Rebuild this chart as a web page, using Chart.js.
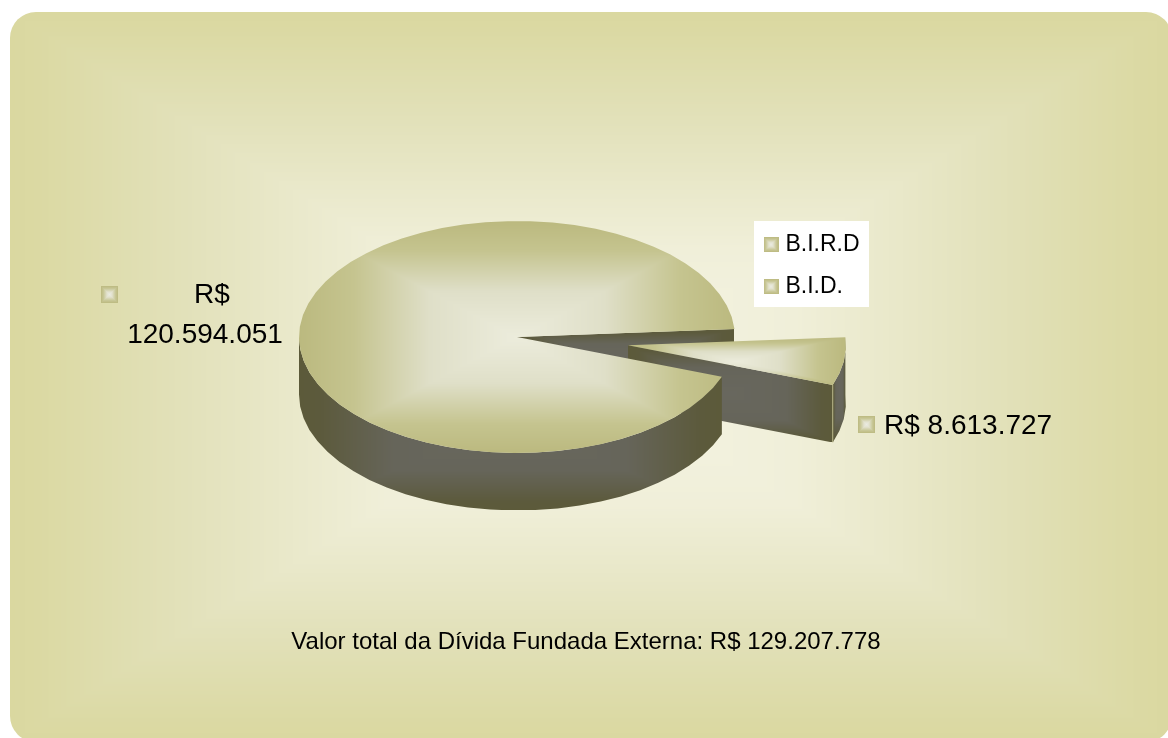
<!DOCTYPE html>
<html><head><meta charset="utf-8">
<style>html,body{margin:0;padding:0;background:#fff;overflow:hidden}canvas{display:block}</style>
<script src="https://cdn.jsdelivr.net/npm/chart.js@4"></script>
</head><body>
<div style="width:1168px;height:738px"><canvas id="c" width="1168" height="738"></canvas></div>
<script>
const categories = ['B.I.R.D', 'B.I.D.'];
const debtValues = [120594051, 8613727];
const totalLabel = 'Valor total da Dívida Fundada Externa: R$ 129.207.778';
const explodeOffsets = [0, 112];   // radial explosion of each slice, px in pie plane
const FONT = '"Liberation Sans", Arial, sans-serif';
const SQUASH = 0.532, DEPTH = 57.5, FACET = 6 * Math.PI / 180;
const TOP_STOPS  = [[0,[236,236,220]],[.4,[223,223,200]],[.75,[197,196,143]],[1,[187,185,127]]];
const WALL_STOPS = [[0,[104,103,94]],[.55,[102,101,90]],[.9,[92,90,60]],[1,[92,90,58]]];
const BG_STOPS   = [[0,[245,244,228]],[.35,[240,239,217]],[.7,[226,225,186]],[.95,[219,217,163]],[1,[218,216,160]]];
const MARK_STOPS = [[0,[235,235,225]],[.3,[226,226,206]],[.7,[200,199,150]],[1,[187,185,127]]];
const fmt = v => String(v).replace(/\B(?=(\d{3})+$)/g, '.');

function lerpStops(stops, t) {
  t = Math.min(1, Math.max(0, t));
  for (let i = 1; i < stops.length; i++) if (t <= stops[i][0]) {
    const a = stops[i-1], b = stops[i], k = (t - a[0]) / (b[0] - a[0] || 1);
    return a[1].map((c, j) => c + (b[1][j] - c) * k);
  }
  return stops[stops.length-1][1];
}
function rectGradient(w, h, stops) {
  w = Math.max(1, Math.ceil(w)); h = Math.max(1, Math.ceil(h));
  const cv = document.createElement('canvas'); cv.width = w; cv.height = h;
  const g = cv.getContext('2d'), im = g.createImageData(w, h);
  for (let y = 0; y < h; y++) for (let x = 0; x < w; x++) {
    const t = Math.max(Math.abs(x + .5 - w/2) / (w/2), Math.abs(y + .5 - h/2) / (h/2));
    const c = lerpStops(stops, t), i = (y*w + x) * 4;
    im.data[i] = c[0]; im.data[i+1] = c[1]; im.data[i+2] = c[2]; im.data[i+3] = 255;
  }
  g.putImageData(im, 0, 0);
  return cv;
}
function shade(ctx, pathFn, box, stops) {
  ctx.save(); ctx.beginPath(); pathFn(ctx); ctx.closePath(); ctx.clip();
  ctx.drawImage(rectGradient(box.x1 - box.x0, box.y1 - box.y0, stops), box.x0, box.y0, box.x1 - box.x0, box.y1 - box.y0);
  ctx.restore();
}
const markerImg = rectGradient(15, 15, MARK_STOPS);
const markerImg2 = rectGradient(17, 17, MARK_STOPS);

function geom(arc, i) {
  const p = arc.getProps(['x','y','startAngle','endAngle','outerRadius'], true);
  const mid = (p.startAngle + p.endAngle) / 2, off = explodeOffsets[i];
  const cx = p.x + Math.cos(mid) * off, cy = p.y + Math.sin(mid) * off * SQUASH;
  const r = p.outerRadius, ry = r * SQUASH;
  const pt = (a, dz = 0) => [cx + Math.cos(a) * r, cy + Math.sin(a) * ry + dz];
  return {cx, cy, r, ry, a0: p.startAngle, a1: p.endAngle, pt};
}
function arcPts(g, a0, a1, dz) {
  const pts = [], n = Math.max(1, Math.ceil(Math.abs(a1 - a0) / FACET));
  for (let i = 0; i <= n; i++) pts.push(g.pt(a0 + (a1 - a0) * i / n, dz));
  return pts;
}
function trace(ctx, pts, first) { pts.forEach((p, i) => (first && i === 0) ? ctx.moveTo(p[0], p[1]) : ctx.lineTo(p[0], p[1])); }
function topFace(ctx, g) {
  const sweep = g.a1 - g.a0;
  let xs = arcPts(g, g.a0, g.a1, 0).concat([[g.cx, g.cy]]);
  const box = sweep > Math.PI
    ? {x0: g.cx - g.r, x1: g.cx + g.r, y0: g.cy - g.ry, y1: g.cy + g.ry}
    : {x0: Math.min(...xs.map(p=>p[0])), x1: Math.max(...xs.map(p=>p[0])), y0: Math.min(...xs.map(p=>p[1])), y1: Math.max(...xs.map(p=>p[1]))};
  shade(ctx, c => trace(c, xs, true), box, TOP_STOPS);
}
function band(ctx, g, a0, a1) {
  const top = arcPts(g, a0, a1, 0), bot = arcPts(g, a1, a0, DEPTH);
  const all = top.concat(bot);
  shade(ctx, c => { trace(c, top, true); trace(c, bot, false); },
    {x0: Math.min(...all.map(p=>p[0])), x1: Math.max(...all.map(p=>p[0])), y0: Math.min(...all.map(p=>p[1])), y1: Math.max(...all.map(p=>p[1]))}, WALL_STOPS);
}
function cutWall(ctx, g, a) {
  const e = g.pt(a), pts = [[g.cx, g.cy], e, [e[0], e[1] + DEPTH], [g.cx, g.cy + DEPTH]];
  shade(ctx, c => trace(c, pts, true),
    {x0: Math.min(g.cx, e[0]), x1: Math.max(g.cx, e[0]), y0: Math.min(g.cy, e[1]), y1: Math.max(g.cy, e[1]) + DEPTH}, WALL_STOPS);
}
const pie3d = {
  id: 'pie3d',
  afterLayout(chart) {
    const L = chart.legend, T = chart.titleBlock;
    L.left = 749; L.right = 869; L.top = 214; L.bottom = 600; L.width = 120; L.height = 386;
    T.left = 0; T.right = 1172; T.width = 1172; T.top = 628; T.bottom = 657; T.height = 29;
  },
  beforeDraw(chart) {
    const ctx = chart.ctx;
    ctx.save();
    ctx.beginPath(); ctx.roundRect(10, 12, 1162, 730, 26); ctx.clip();
    ctx.drawImage(rectGradient(1162, 730, BG_STOPS), 10, 12);
    ctx.restore();
    ctx.fillStyle = '#fff'; ctx.fillRect(754, 221, 115, 86);
  },
  beforeDatasetDraw(chart, args) {
    const ctx = chart.ctx, arcs = chart.getDatasetMeta(args.index).data;
    const main = geom(arcs[0], 0), slice = geom(arcs[1], 1);
    // main pie: wall of the notch's far edge
    cutWall(ctx, main, main.a1);
    // exploded slice: side faces, light corner seam, then top
    const corner = slice.pt(slice.a1 - 2 * Math.PI);
    cutWall(ctx, slice, slice.a1 - 2 * Math.PI);
    band(ctx, slice, slice.a0, slice.a1);
    ctx.strokeStyle = 'rgba(190,188,140,0.85)'; ctx.lineWidth = 1;
    ctx.beginPath(); ctx.moveTo(corner[0], corner[1]); ctx.lineTo(corner[0], corner[1] + DEPTH); ctx.stroke();
    topFace(ctx, slice);
    // main pie: outer wall (front half only) and top
    band(ctx, main, main.a0, Math.PI);
    topFace(ctx, main);
    return false;
  },
  afterDatasetsDraw(chart) {
    const ctx = chart.ctx;
    ctx.save();
    ctx.fillStyle = '#000'; ctx.textBaseline = 'alphabetic'; ctx.font = '28px ' + FONT;
    const [m1, m2] = [fmt(debtValues[0]), fmt(debtValues[1])];
    ctx.drawImage(markerImg2, 101, 286);
    ctx.textAlign = 'center';
    ctx.fillText('R$', 212, 303);
    ctx.fillText(m1, 205, 343);
    ctx.drawImage(markerImg2, 858, 416);
    ctx.textAlign = 'left';
    ctx.fillText('R$ ' + m2, 884, 434);
    ctx.restore();
  }
};
new Chart(document.getElementById('c'), {
  type: 'pie',
  data: { labels: categories, datasets: [{ data: debtValues, backgroundColor: ['#bbb97f', '#bbb97f'], borderWidth: 0 }] },
  plugins: [pie3d],
  options: {
    responsive: false, animation: false, rotation: 110, radius: 218,
    layout: { padding: { left: 0, right: 134, top: 0, bottom: 35.2 } },
    plugins: {
      tooltip: { enabled: false },
      legend: {
        position: 'chartArea', align: 'start',
        labels: {
          usePointStyle: true, boxWidth: 6, padding: 19, color: '#000',
          font: { family: FONT, size: 23 },
          generateLabels: c => c.data.labels.map((t, i) => ({ text: t, pointStyle: markerImg, fontColor: '#000', index: i, datasetIndex: 0, lineWidth: 0 }))
        }
      },
      title: { display: true, position: 'bottom', text: totalLabel, color: '#000', padding: 0, font: { family: FONT, size: 24, weight: 'normal' } }
    }
  }
});
</script>
</body></html>
